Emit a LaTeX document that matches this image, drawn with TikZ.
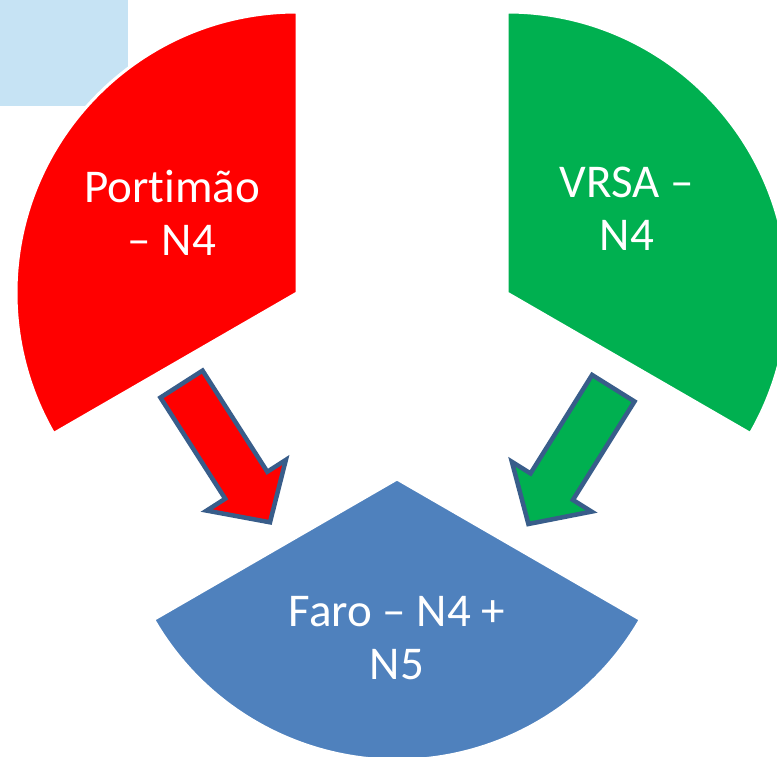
\documentclass[tikz,border=0pt]{standalone}
\usepackage{fontspec}
\setmainfont{Carlito}[Ligatures={NoCommon}]
\usetikzlibrary{calc}

\definecolor{cRed}{RGB}{255,0,0}
\definecolor{cGreen}{RGB}{0,176,80}
\definecolor{cBlue}{RGB}{79,129,189}
\definecolor{cEdge}{RGB}{56,93,138}
\definecolor{cSky}{RGB}{198,227,244}

\begin{document}
\begin{tikzpicture}[x=1pt,y=1pt,
  sector/.style={draw=white,line width=3pt},
  lbl/.style={text=white,align=center,font=\fontsize{47}{53}\selectfont},
  blockarrow/.style={draw=cEdge,line width=4.5pt,line join=miter}]
  \useasboundingbox (0,0) rectangle (777,756);
  \clip (0,0) rectangle (777,756);
  \fill[cSky] (0,650) rectangle (128,756);
  % sector tips
  \coordinate (pR) at (297,463);
  \coordinate (pG) at (507,463);
  \coordinate (pB) at (397,277);
  \filldraw[sector,fill=cRed] (pR) -- ++(90:281pt) arc (90:210:281pt) -- cycle;
  \filldraw[sector,fill=cGreen] (pG) -- ++(90:281pt) arc (90:-30:281pt) -- cycle;
  \filldraw[sector,fill=cBlue] (pB) -- ++(210:281pt) arc (210:330:281pt) -- cycle;
  \node[lbl] (port) at (172,543) {Portimão\\– N4};
  \node[lbl] (vrsa) at (627,547) {VRSA –\\N4};
  \node[lbl] (faro) at (397,118) {Faro – N4 +\\N5};
  % block arrows, tail -> head
  \coordinate (rT) at (181.5,371.9);
  \coordinate (rH) at (270,233.7);
  \coordinate (gT) at (613.3,367.8);
  \coordinate (gH) at (528.4,232);
  \foreach \a/\b/\c in {rT/rH/cRed,gT/gH/cGreen}{
    \coordinate (\a-base) at ($(\b)!44pt!(\a)$);
    \filldraw[blockarrow,fill=\c] ($(\a)!25pt!90:(\b)$) -- ($(\a-base)!25pt!90:(\b)$)
      -- ($(\a-base)!47pt!90:(\b)$) -- (\b) -- ($(\a-base)!47pt!-90:(\b)$)
      -- ($(\a-base)!25pt!-90:(\b)$) -- ($(\a)!25pt!-90:(\b)$) -- cycle;
  }
\end{tikzpicture}
\end{document}
